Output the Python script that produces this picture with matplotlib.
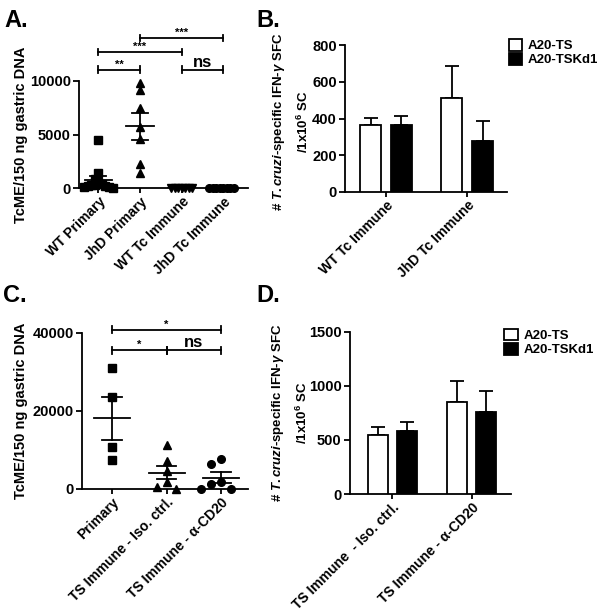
import numpy as np
import matplotlib
matplotlib.use("Agg")
from matplotlib import pyplot as plt
from matplotlib.patches import Patch

plt.rcParams['font.family'] = ['Liberation Sans', 'DejaVu Sans']
plt.rcParams['font.weight'] = 'bold'
plt.rcParams['mathtext.fontset'] = 'custom'
plt.rcParams['mathtext.rm'] = 'Liberation Sans:bold'
plt.rcParams['mathtext.it'] = 'Liberation Sans:bold:italic'
plt.rcParams['mathtext.bf'] = 'Liberation Sans:bold'

# ---- data ----
# Panel A: TcME per 150 ng gastric DNA
a_groups = ['WT Primary', 'JhD Primary', 'WT Tc Immune', 'JhD Tc Immune']
a_wt_primary = [4500, 1450, 900, 600, 450, 350, 250, 200, 150, 100, 50, 300]
a_jhd_primary = [9100, 9800, 7450, 5700, 4550, 2250, 1400]
a_wt_immune = [0, 20, 10, 40, 30, 0, 15]
a_jhd_immune = [0, 30, 60, 20, 80, 40, 10, 50]
a_markers = ['s', '^', 'v', 'o']
a_sig = [(0, 1, 11000, '**'), (0, 2, 12650, '***'), (1, 3, 13950, '***'), (2, 3, 11000, 'ns')]

# Panel B: IFN-g SFC
b_groups = ['WT Tc Immune', 'JhD Tc Immune']
b_ts = [365, 513]
b_ts_err = [40, 177]
b_kd1 = [365, 277]
b_kd1_err = [47, 108]

# Panel C
c_groups = ['Primary', 'TS Immune - Iso. ctrl.', 'TS Immune - α-CD20']
c_primary = [31000, 23600, 10700, 7300]
c_iso = [11200, 7200, 4500, 1900, 0, 500]
c_cd20 = [7700, 6400, 1300, 1700, 100, 100]
c_markers = ['s', '^', 'o']
c_sig = [(0, 2, 40800, '*'), (0, 1, 35600, '*'), (1, 2, 35600, 'ns')]

# Panel D
d_groups = ['TS Immune  - Iso. ctrl.', 'TS Immune - α-CD20']
d_ts = [545, 850]
d_ts_err = [75, 200]
d_kd1 = [580, 760]
d_kd1_err = [85, 190]

series_names = ['A20-TS', 'A20-TSKd1']

LW = 1.3
FS = 10.5
XFS = 10


def swarm(vals, dy, dx):
    # greedy beeswarm: put each point at the nearest free horizontal slot
    vals = np.asarray(vals, float)
    offs = np.zeros(len(vals))
    placed = []
    for i in np.argsort(-vals):
        k = 0
        while True:
            cands = [0.0] if k == 0 else [-k * dx, k * dx]
            ok = None
            for c in cands:
                if all(not (abs(vals[i] - v) < dy and abs(c - o) < dx * 0.99) for v, o in placed):
                    ok = c
                    break
            if ok is not None:
                offs[i] = ok
                placed.append((vals[i], ok))
                break
            k += 1
    return offs


def prism_axes(ax, ytop):
    ax.spines['top'].set_visible(False)
    ax.spines['right'].set_visible(False)
    ax.spines['left'].set_linewidth(LW)
    ax.spines['bottom'].set_linewidth(LW)
    ax.spines['left'].set_bounds(0, ytop)
    ax.tick_params(width=LW, length=4, labelsize=FS, pad=2)
    ax.tick_params(axis='x', labelsize=XFS, length=3.5, pad=1)
    for t in ax.get_yticklabels():
        t.set_fontweight('bold')


def scatter_panel(ax, groups, data, markers, dy, dx, halfw, capw):
    for i, (vals, m) in enumerate(zip(data, markers)):
        offs = swarm(vals, dy, dx)
        ax.plot(i + offs, vals, m, color='black', ms=5.5, clip_on=False, zorder=3)
        mean = np.mean(vals)
        sem = np.std(vals, ddof=1) / np.sqrt(len(vals))
        ax.plot([i - halfw, i + halfw], [mean, mean], color='black', lw=LW, zorder=4)
        ax.plot([i, i], [mean - sem, mean + sem], color='black', lw=LW, zorder=4)
        for y in (mean - sem, mean + sem):
            ax.plot([i - capw, i + capw], [y, y], color='black', lw=LW, zorder=4)
    ax.set_xticks(range(len(groups)))
    ax.set_xticklabels(groups, rotation=45, ha='right', rotation_mode='anchor',
                       fontsize=XFS, fontweight='bold')


def brackets(ax, sig, tick):
    for x1, x2, y, txt in sig:
        ax.plot([x1, x2], [y, y], color='black', lw=LW, clip_on=False)
        for xe in (x1, x2):
            ax.plot([xe, xe], [y - tick, y + tick], color='black', lw=LW, clip_on=False)
        fs = 12 if txt == 'ns' else 8
        ax.text((x1 + x2) / 2, y, txt, ha='center', va='bottom', fontsize=fs, fontweight='bold')


def bar_panel(ax, groups, ts, ts_err, kd1, kd1_err, w, off):
    x = np.arange(len(groups))
    ax.bar(x - off, ts, w, color='white', edgecolor='black', lw=LW, zorder=3)
    ax.bar(x + off, kd1, w, color='black', edgecolor='black', lw=LW, zorder=3)
    ax.errorbar(x - off, ts, yerr=[np.zeros(len(ts)), ts_err], fmt='none', ecolor='black',
                elinewidth=LW, capsize=5, capthick=LW, zorder=2)
    ax.errorbar(x + off, kd1, yerr=[np.zeros(len(kd1)), kd1_err], fmt='none', ecolor='black',
                elinewidth=LW, capsize=5, capthick=LW, zorder=2)
    ax.set_xticks(x)
    ax.set_xticklabels(groups, rotation=45, ha='right', rotation_mode='anchor',
                       fontsize=XFS, fontweight='bold')


def add_legend(ax, anchor):
    ax.legend(handles=[Patch(facecolor='white', edgecolor='black', lw=LW),
                       Patch(facecolor='black', edgecolor='black', lw=LW)],
              labels=series_names, loc='upper left', bbox_to_anchor=anchor, frameon=False,
              prop={'weight': 'bold', 'size': 9.5}, handlelength=1.0, handleheight=1.0,
              handletextpad=0.45, labelspacing=0.05, borderaxespad=0.0, borderpad=0.0)


fig = plt.figure(figsize=(6, 6.14), dpi=100)

ifn_label = '# $\\mathit{T. cruzi}$-specific IFN-$\\gamma$ SFC\n/1x10$^6$ SC'

# Panel A
axA = fig.add_axes([0.132, 0.693, 0.282, 0.255])
scatter_panel(axA, a_groups, [a_wt_primary, a_jhd_primary, a_wt_immune, a_jhd_immune],
              a_markers, 600, 0.085, 0.33, 0.19)
axA.set_xlim(-0.46, 3.6)
axA.set_ylim(0, 14500)
axA.set_yticks([0, 5000, 10000])
prism_axes(axA, 10000)
brackets(axA, a_sig, 300)
axA.set_ylabel('TcME/150 ng gastric DNA', fontsize=FS, fontweight='bold')
axA.yaxis.set_label_coords(-0.305, 5000 / 14500)

# Panel B
axB = fig.add_axes([0.575, 0.688, 0.27, 0.238])
bar_panel(axB, b_groups, b_ts, b_ts_err, b_kd1, b_kd1_err, 0.26, 0.19)
axB.set_xlim(-0.506, 1.49)
axB.set_ylim(0, 800)
axB.set_yticks([0, 200, 400, 600, 800])
prism_axes(axB, 800)
axB.set_ylabel(ifn_label, fontsize=9.5, fontweight='bold', linespacing=1.7)
axB.yaxis.set_label_coords(-0.21, 0.48)
add_legend(axB, (1.01, 1.045))

# Panel C
axC = fig.add_axes([0.137, 0.2036, 0.277, 0.267])
scatter_panel(axC, c_groups, [c_primary, c_iso, c_cd20], c_markers, 2500, 0.18, 0.33, 0.18)
axC.set_xlim(-0.545, 2.5)
axC.set_ylim(0, 42000)
axC.set_yticks([0, 20000, 40000])
prism_axes(axC, 40000)
brackets(axC, c_sig, 900)
axC.set_ylabel('TcME/150 ng gastric DNA', fontsize=FS, fontweight='bold')
axC.yaxis.set_label_coords(-0.325, 20000 / 42000)

# Panel D
axD = fig.add_axes([0.583, 0.1954, 0.268, 0.264])
bar_panel(axD, d_groups, d_ts, d_ts_err, d_kd1, d_kd1_err, 0.25, 0.18)
axD.set_xlim(-0.535, 1.49)
axD.set_ylim(0, 1500)
axD.set_yticks([0, 500, 1000, 1500])
prism_axes(axD, 1500)
axD.set_ylabel(ifn_label, fontsize=9.5, fontweight='bold', linespacing=1.7)
axD.yaxis.set_label_coords(-0.248, 0.5)
add_legend(axD, (0.962, 1.02))

# panel letters
for x, y, s in [(0.008, 0.985, 'A.'), (0.428, 0.985, 'B.'), (0.005, 0.537, 'C.'), (0.428, 0.537, 'D.')]:
    fig.text(x, y, s, fontsize=17, fontweight='bold', va='top')

plt.savefig('out.png', dpi=100)
